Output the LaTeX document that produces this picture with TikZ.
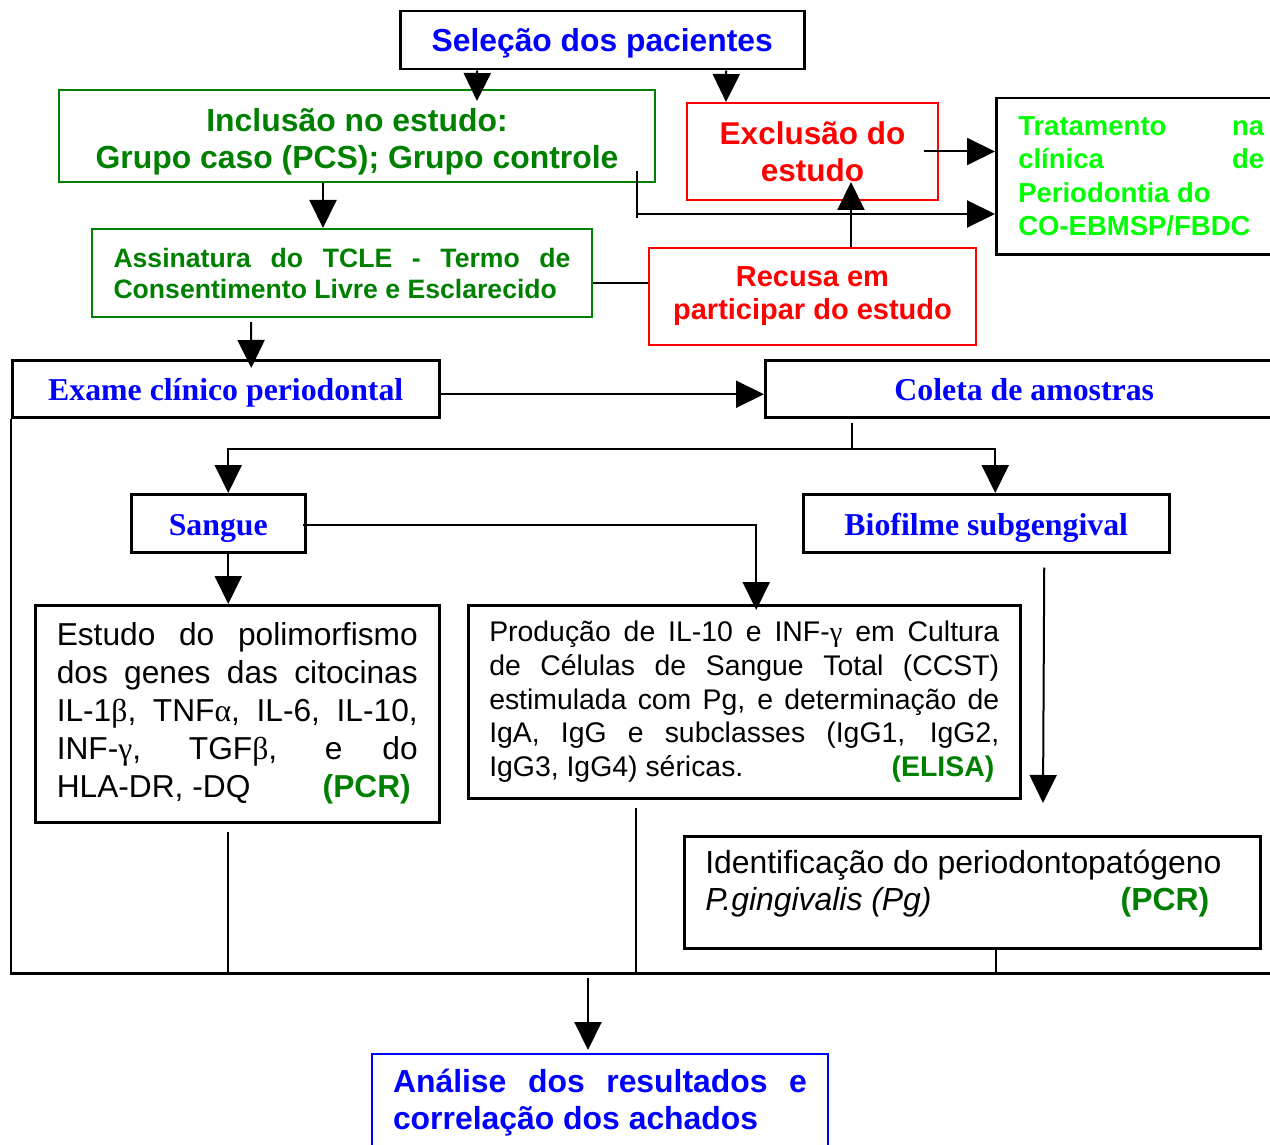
\documentclass[tikz,border=0pt]{standalone}
\usepackage{fontspec}
\setmainfont{Liberation Sans}
\newfontfamily\titleserif{Liberation Serif}
\newcommand\grk[1]{{\titleserif #1}}
\usetikzlibrary{arrows.meta,calc}
\definecolor{pblue}{RGB}{0,0,255}
\definecolor{dgreen}{RGB}{0,128,0}
\definecolor{lgreen}{RGB}{0,255,0}
\definecolor{pred}{RGB}{255,0,0}

\begin{document}
\begin{tikzpicture}[x=1pt,y=-1pt,
  box/.style={draw, line width=2.5pt, inner sep=0pt, anchor=north west},
  cbox/.style={box, line width=2pt},
  conn/.style={line width=2pt},
  arr/.style={conn, -{Triangle[length=28pt,width=27pt]}},
  serifbox/.style={box, text=pblue, text height=26pt, text depth=2pt,
                   font=\titleserif\bfseries\fontsize{31.8}{38}\selectfont}
]
\useasboundingbox (0,0) rectangle (1270,1145);

% ---- boxes ----
\node[box, minimum width=404pt, minimum height=58pt, text=pblue, text height=25pt, text depth=2pt,
      font=\fontsize{31.8}{38}\selectfont\bfseries] (sel) at (399,10) {Seleção dos pacientes};

\node[cbox, draw=dgreen, minimum width=596pt, minimum height=92pt] (incl) at (58,89) {};
\node[text=dgreen, align=center, inner sep=0pt,
      font=\fontsize{31.9}{37}\selectfont\bfseries] (incltxt) at ([yshift=-6pt]incl.center)
      {Inclusão no estudo:\\Grupo caso (PCS); Grupo controle};

\node[cbox, draw=pred, minimum width=251pt, minimum height=97pt, text=pred, align=center,
      font=\fontsize{31.5}{37}\selectfont\bfseries] (excl) at (686,102) {Exclusão do\\estudo};

\node[box, minimum width=290pt, minimum height=156pt, text=lgreen, align=left,
      font=\bfseries\fontsize{27.5}{33.3}\selectfont] (trat) at (995,97)
      {\makebox[246pt][s]{Tratamento na}\\\makebox[246pt][s]{clínica de}\\Periodontia do\\CO-EBMSP/FBDC};

\node[cbox, draw=dgreen, minimum width=500pt, minimum height=88pt, text=dgreen, align=left,
      font=\bfseries\fontsize{26.6}{31}\selectfont] (assin) at (91,228)
      {\makebox[457pt][s]{Assinatura do TCLE - Termo de}\\Consentimento Livre e Esclarecido};

\node[cbox, draw=pred, minimum width=327pt, minimum height=97pt, text=pred, align=center,
      font=\bfseries\fontsize{29}{33}\selectfont] (recusa) at (648,247)
      {Recusa em\\participar do estudo};

\node[serifbox, minimum width=427pt, minimum height=57pt] (exame) at (11,359) {Exame clínico periodontal};
\node[serifbox, minimum width=518pt, minimum height=57pt] (coleta) at (764,359) {Coleta de amostras};
\node[serifbox, minimum width=174pt, minimum height=58pt] (sangue) at (130,493) {Sangue};
\node[serifbox, minimum width=366pt, minimum height=58pt] (biof) at (802,493) {Biofilme subgengival};

\node[box, minimum width=404pt, minimum height=217pt, align=left,
      font=\fontsize{31.7}{38}\selectfont] (estudo) at (34,604)
      {\makebox[361pt][s]{Estudo do polimorfismo}\\
       \makebox[361pt][s]{dos genes das citocinas}\\
       \makebox[361pt][s]{IL-1\grk{β}, TNF\grk{α}, IL-6, IL-10,}\\
       \makebox[361pt][s]{INF-\grk{γ}, TGF\grk{β}, e do}\\
       \makebox[361pt][l]{HLA-DR, -DQ\hfill{\bfseries\color{dgreen}(PCR)}\hspace{7pt}}};

\node[box, minimum width=552pt, minimum height=193pt, align=left,
      font=\fontsize{28.4}{33.75}\selectfont] (prod) at (467,604)
      {\makebox[510pt][s]{Produção de IL-10 e INF-\grk{γ} em Cultura}\\
       \makebox[510pt][s]{de Células de Sangue Total (CCST)}\\
       \makebox[510pt][s]{estimulada com Pg, e determinação de}\\
       \makebox[510pt][s]{IgA, IgG e subclasses (IgG1, IgG2,}\\
       \makebox[510pt][l]{IgG3, IgG4) séricas.\hfill{\bfseries\color{dgreen}(ELISA)}\hspace{5pt}}};

\node[box, minimum width=576pt, minimum height=112pt] (ident) at (683,835) {};
\node[align=left, inner sep=0pt, font=\fontsize{31.9}{37}\selectfont]
      (identtxt) at ([yshift=8.5pt]ident.center)
      {\makebox[534pt][l]{Identificação do periodontopatógeno}\\
       \makebox[534pt][l]{\itshape P.gingivalis (Pg)\hfill{\upshape\bfseries\color{dgreen}(PCR)}\hspace{30pt}}};

\node[cbox, draw=pblue, minimum width=456pt, minimum height=97pt, text=pblue, align=left,
      font=\fontsize{31.9}{37}\selectfont\bfseries] (anal) at (371,1053)
      {\makebox[414pt][s]{Análise dos resultados e}\\correlação dos achados};

% ---- connectors ----
\draw[arr] ([xshift=-125pt]sel.south) -- ([xshift=120pt,yshift=-12pt]incl.north);
\draw[arr] ([xshift=124pt]sel.south) -- ([xshift=-86.5pt]excl.north);
\draw[arr] ([xshift=-34pt]incl.south) -- ([xshift=-19pt]assin.north);
\coordinate (inclturn) at ([xshift=-19pt,yshift=-31pt]incl.south east);
\draw[conn] ([xshift=-19pt,yshift=12pt]incl.south east) -- ([xshift=-19pt,yshift=-35pt]incl.south east);
\draw[arr] (inclturn) -- (inclturn -| trat.west);
\draw[arr] ([xshift=-15pt]excl.east) -- (excl.east -| trat.west);
\draw[conn] ([yshift=-10pt]assin.east) -- ([yshift=-10pt]assin.east -| recusa.west);
\draw[arr] ([xshift=38.5pt]recusa.north) -- ([xshift=38.5pt,yshift=19pt]excl.south);
\draw[arr] ([xshift=-91pt,yshift=-4pt]assin.south) -- ([xshift=25.5pt,yshift=-9pt]exame.north);
\draw[arr] ([yshift=-5.5pt]exame.east) -- ([yshift=-5.5pt]coleta.west);

\coordinate (split) at ([xshift=-172pt,yshift=-30pt]coleta.south);
\draw[conn] ([xshift=-172pt,yshift=-4pt]coleta.south) -- (split);
\draw[arr] (split) -| ([xshift=10pt]sangue.north);
\draw[arr] (split) -| ([xshift=9pt]biof.north);

\draw[arr] ([xshift=10pt]sangue.south) -- ([xshift=-9pt]estudo.north);
\draw[arr] ([xshift=-4pt,yshift=-2pt]sangue.east) -| ([xshift=12pt,yshift=-6pt]prod.north);

\coordinate (biofend) at (1043,803);
\draw[arr] ([xshift=58pt,yshift=-14pt]biof.south) -- (biofend);

% ---- collecting line at the bottom ----
\coordinate (busL) at ([yshift=-555pt]exame.south west);
\coordinate (busR) at ($(busL)+(1264,0)$);
\coordinate (estdrop) at ([xshift=-9pt,yshift=-8pt]estudo.south);
\coordinate (proddrop) at ([xshift=-108pt,yshift=-8pt]prod.south);
\coordinate (identdrop) at ([xshift=24pt]ident.south);
\draw[conn] (estdrop) -- (estdrop |- busL);
\draw[conn] (proddrop) -- (proddrop |- busL);
\draw[conn] (identdrop) -- (identdrop |- busL);
\draw[conn, line width=2.5pt] (exame.south west) -- (busL) -- (busR);
\draw[arr] ([xshift=-12pt,yshift=75pt]anal.north) -- ([xshift=-12pt,yshift=3pt]anal.north);
\end{tikzpicture}
\end{document}
